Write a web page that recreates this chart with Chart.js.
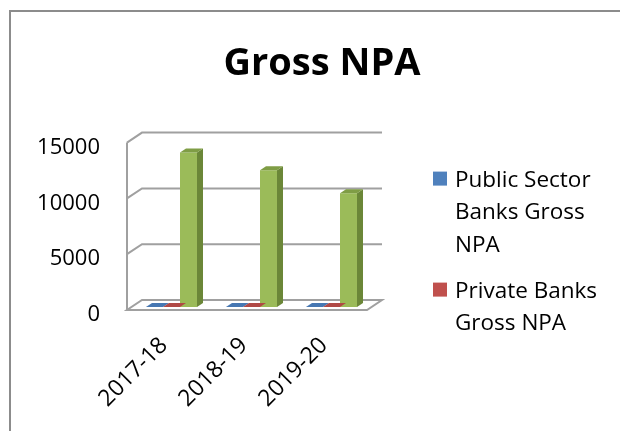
<!DOCTYPE html>
<html>
<head>
<meta charset="utf-8">
<script src="https://cdn.jsdelivr.net/npm/chart.js@4.4.0/dist/chart.umd.min.js"></script>
<style>
  html, body { margin: 0; padding: 0; background: #fff; }
  canvas { display: block; }
</style>
</head>
<body>
<canvas id="npa" width="620" height="431"></canvas>
<script>
const years = ['2017-18', '2018-19', '2019-20'];
const publicBanks = [9, 7, 7];
const privateBanks = [1, 2, 2];
const totalNpa = [13850, 12250, 10200];
const yTicks = [0, 5000, 10000, 15000];

const FONT = "'Open Sans', sans-serif";

// 3D box offsets: back wall relative to the front plane, bar front and bar depth
const depth = { x: 15, y: -10 };
const barShift = { x: 4.5, y: -3 };
const barDepth = { x: 6, y: -4 };

function wrapWords(ctx, text, maxWidth) {
	const lines = [];
	let line = '';
	text.split(' ').forEach((w) => {
		const test = line ? line + ' ' + w : w;
		if (line && ctx.measureText(test).width > maxWidth) {
			lines.push(line);
			line = w;
		} else {
			line = test;
		}
	});
	if (line) lines.push(line);
	return lines;
}

const Box3D = {
	id: 'box3d',
	afterLayout: (chart) => {
		// centre the title over the whole frame, not just the plot + padding
		const t = chart.titleBlock;
		if (t) {
			t.left = 24;
			t.right = chart.width;
			t.width = t.right - t.left;
		}
	},
	beforeDraw: (chart) => {
		const { ctx, width, height } = chart;
		ctx.save();
		ctx.fillStyle = '#8c8c8c';
		ctx.fillRect(9, 10, 2, height - 10);
		ctx.fillRect(9, 10, width - 9, 2);
		ctx.restore();
	},
	beforeDatasetsDraw: (chart) => {
		const { ctx, chartArea: a, scales } = chart;
		const y = scales.y;
		ctx.save();
		ctx.strokeStyle = '#a0a0a0';
		ctx.lineWidth = 2;
		y.ticks.forEach((t) => {
			if (t.value === y.min) return;
			const py = y.getPixelForValue(t.value);
			ctx.beginPath();
			ctx.moveTo(a.left, py);
			ctx.lineTo(a.left + depth.x, py + depth.y);
			ctx.lineTo(a.right + depth.x, py + depth.y);
			ctx.stroke();
		});
		// floor
		ctx.beginPath();
		ctx.moveTo(a.left, a.bottom);
		ctx.lineTo(a.right, a.bottom);
		ctx.lineTo(a.right + depth.x, a.bottom + depth.y);
		ctx.lineTo(a.left + depth.x, a.bottom + depth.y);
		ctx.closePath();
		ctx.stroke();
		// front edge of the side wall
		ctx.beginPath();
		ctx.moveTo(a.left, a.top);
		ctx.lineTo(a.left, a.bottom);
		ctx.stroke();
		ctx.restore();

		ctx.save();
		ctx.translate(barShift.x, barShift.y);
	},
	afterDatasetsDraw: (chart) => {
		const { ctx } = chart;
		chart.data.datasets.forEach((ds, i) => {
			chart.getDatasetMeta(i).data.forEach((bar) => {
				const { x, y, base, width } = bar.getProps(['x', 'y', 'base', 'width'], true);
				const l = x - width / 2;
				const r = x + width / 2;
				ctx.fillStyle = ds.sideColor;
				ctx.beginPath();
				ctx.moveTo(r, y);
				ctx.lineTo(r + barDepth.x, y + barDepth.y);
				ctx.lineTo(r + barDepth.x, base + barDepth.y);
				ctx.lineTo(r, base);
				ctx.closePath();
				ctx.fill();
				ctx.fillStyle = ds.topColor;
				ctx.beginPath();
				ctx.moveTo(l, y);
				ctx.lineTo(r, y);
				ctx.lineTo(r + barDepth.x, y + barDepth.y);
				ctx.lineTo(l + barDepth.x, y + barDepth.y);
				ctx.closePath();
				ctx.fill();
			});
		});
		ctx.restore();
	},
	afterDraw: (chart) => {
		const { ctx, chartArea: a } = chart;
		const lineH = 32.5;
		let top = a.top + 29;
		ctx.save();
		ctx.font = '22.5px ' + FONT;
		ctx.textBaseline = 'alphabetic';
		chart.data.datasets.forEach((ds) => {
			if (!ds.inLegend) return;
			ctx.fillStyle = ds.backgroundColor;
			ctx.fillRect(a.right + 66, top, 14, 14);
			ctx.fillStyle = '#000';
			const lines = wrapWords(ctx, ds.label, 152);
			lines.forEach((ln, k) => {
				ctx.fillText(ln, a.right + 88, top + 15 + k * lineH);
			});
			top += lines.length * lineH + 13.5;
		});
		ctx.restore();
	}
};

const ctx = document.getElementById('npa').getContext('2d');
new Chart(ctx, {
	type: 'bar',
	data: {
		labels: years,
		datasets: [
			{
				label: 'Public Sector Banks Gross NPA',
				data: publicBanks,
				backgroundColor: '#4f81bd',
				topColor: '#4677b2',
				sideColor: '#385d8a',
				inLegend: true
			},
			{
				label: 'Private Banks Gross NPA',
				data: privateBanks,
				backgroundColor: '#c0504d',
				topColor: '#b04946',
				sideColor: '#8c3836',
				inLegend: true
			},
			{
				label: 'Gross NPA',
				data: totalNpa,
				backgroundColor: '#9bbb59',
				topColor: '#7f9d45',
				sideColor: '#6b8738',
				inLegend: false
			}
		]
	},
	options: {
		responsive: false,
		animation: false,
		datasets: {
			bar: {
				categoryPercentage: 0.6375,
				barPercentage: 1,
				borderWidth: 0,
				clip: false
			}
		},
		layout: {
			padding: { left: 24, right: 253, top: 0, bottom: 0 }
		},
		scales: {
			x: {
				grid: { display: false, drawTicks: false },
				border: { display: false },
				ticks: {
					color: '#000',
					font: { family: FONT, size: 23 },
					minRotation: 45,
					maxRotation: 45,
					padding: 22,
					labelOffset: -3
				},
				afterFit: (scale) => { scale.height = 121; }
			},
			y: {
				min: yTicks[0],
				max: yTicks[yTicks.length - 1],
				grid: { display: false, drawTicks: false },
				border: { display: false },
				ticks: {
					stepSize: yTicks[1] - yTicks[0],
					color: '#000',
					font: { family: FONT, size: 22 },
					padding: 27,
					labelOffset: 5,
					callback: (v) => String(v)
				},
				afterFit: (scale) => { scale.width = 103; }
			}
		},
		plugins: {
			legend: { display: false },
			tooltip: { enabled: false },
			title: {
				display: true,
				text: 'Gross NPA',
				color: '#000',
				font: { family: FONT, size: 38, weight: 'bold' },
				padding: { top: 41, bottom: 56 }
			}
		}
	},
	plugins: [Box3D]
});
</script>
</body>
</html>
